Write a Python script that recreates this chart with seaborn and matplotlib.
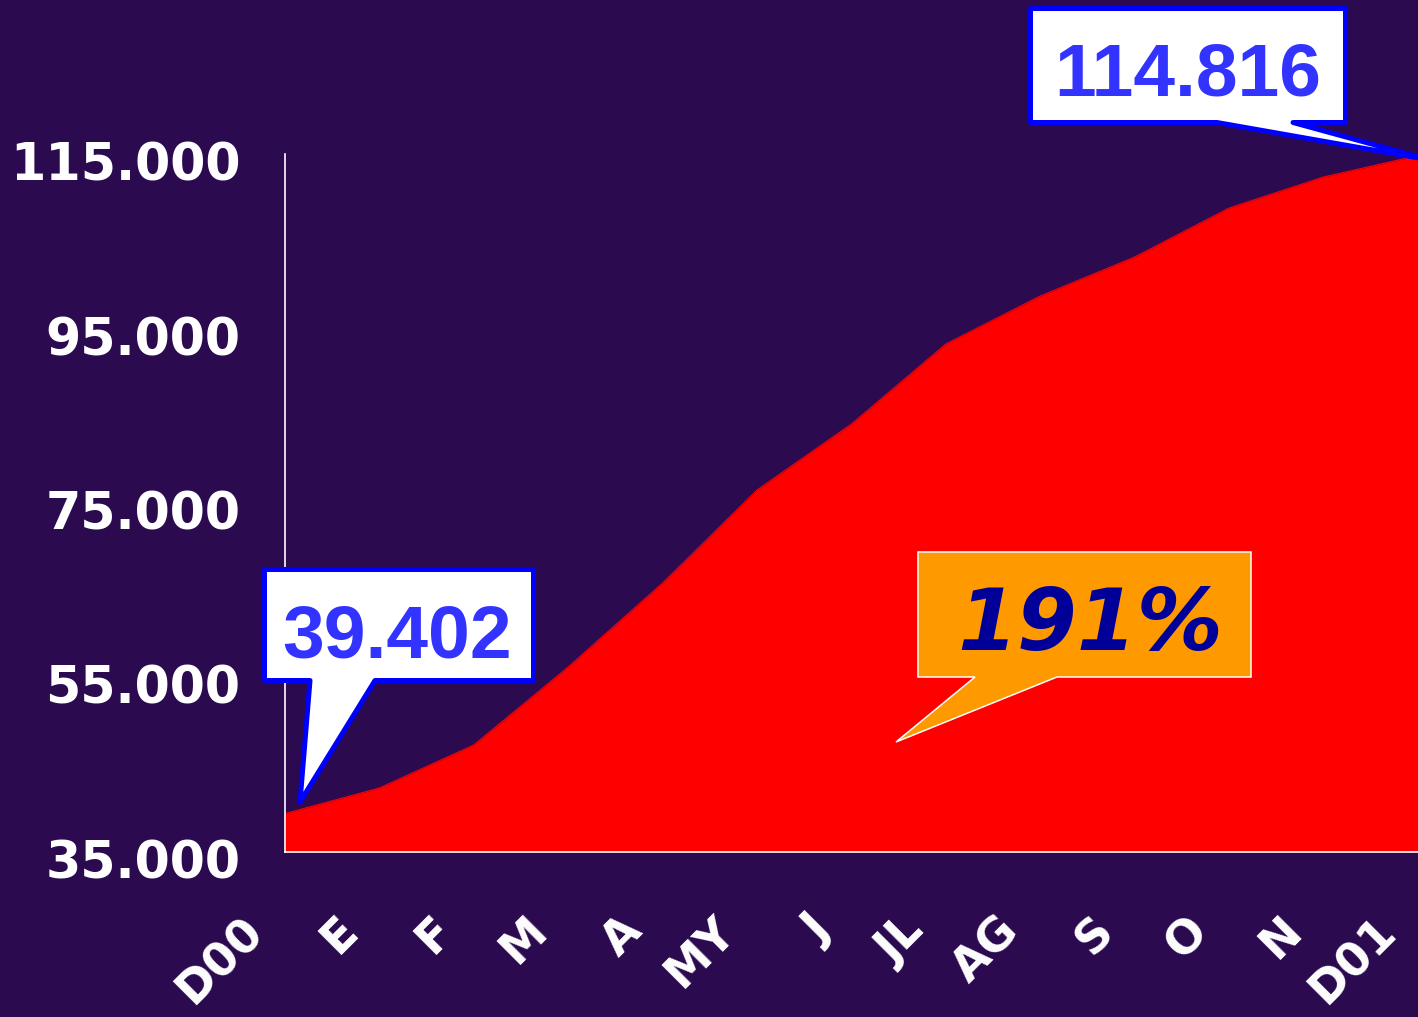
import numpy as np
import pandas as pd
import matplotlib
matplotlib.use("Agg")
import matplotlib.pyplot as plt
from matplotlib.patches import Polygon
from matplotlib.transforms import ScaledTranslation
import seaborn as sns

# ---- data ----
months = ["D00", "E", "F", "M", "A", "MY", "J", "JL", "AG", "S", "O", "N", "D01"]
values = [39402, 42335, 47264, 56203, 65831, 76490, 84054, 93224, 98725,
          103195, 108810, 112364, 114816]
y_ticks = [35000, 55000, 75000, 95000, 115000]
y_tick_labels = ["35.000", "55.000", "75.000", "95.000", "115.000"]
start_label = "39.402"
end_label = "114.816"
growth_label = "191%"

BG = "#2B0A50"
W, H = 1418, 1017

sns.set_theme(style="dark", rc={"axes.facecolor": BG, "figure.facecolor": BG,
                                "axes.grid": False})
plt.rcParams["font.family"] = ["DejaVu Sans"]

fig = plt.figure(figsize=(W / 100, H / 100), dpi=100)
ax = fig.add_axes([285 / W, (H - 852) / H, 1 - 285 / W, (852 - 154) / H])

df = pd.DataFrame({"x": np.arange(len(months)), "y": values})
sns.lineplot(data=df, x="x", y="y", color="#FF0000", lw=0.8, ax=ax)
ax.fill_between(df["x"], df["y"], y_ticks[0], color="#FF0000", lw=0)

ax.set_xlim(0, len(months) - 1)
ax.set_ylim(35000, 115000)
ax.set_xlabel("")
ax.set_ylabel("")

for s in ["top", "right"]:
    ax.spines[s].set_visible(False)
for s in ["left", "bottom"]:
    ax.spines[s].set_color("white")
    ax.spines[s].set_linewidth(1.2)

ax.set_yticks(y_ticks)
ax.set_yticklabels(y_tick_labels, fontsize=36.5, fontweight="bold", color="white")
ax.tick_params(axis="y", length=0, pad=32)
for lab in ax.get_yticklabels():
    lab.set_transform(lab.get_transform() + ScaledTranslation(0, -7 / 100, fig.dpi_scale_trans))

ax.set_xticks(np.arange(len(months)))
ax.set_xticklabels(months, fontsize=33, fontweight="bold", color="white",
                   rotation=45, ha="right", va="center", rotation_mode="anchor")
ax.tick_params(axis="x", length=0, pad=52)
for lab in ax.get_xticklabels():
    lab.set_transform(lab.get_transform() + ScaledTranslation(-28 / 100, 0, fig.dpi_scale_trans))


def P(pts):
    return [(x / W, 1 - y / H) for x, y in pts]


# callout at the start value
fig.add_artist(Polygon(P([(264.5, 569.5), (533.5, 569.5), (533.5, 680.5), (375, 680.5),
                          (300, 802), (310, 680.5), (264.5, 680.5)]),
                       closed=True, transform=fig.transFigure, facecolor="white",
                       edgecolor="#0000FF", linewidth=3.6, joinstyle="round", zorder=5))
fig.text(397 / W, 1 - 657 / H, start_label, ha="center", va="baseline",
         fontsize=54, fontweight="bold", color="#3333FF", family="Liberation Sans", zorder=6)

# callout at the end value
fig.add_artist(Polygon(P([(1030.5, 8.5), (1345.5, 8.5), (1345.5, 122.5), (1293, 122.5),
                          (1430, 160), (1217, 122.5), (1030.5, 122.5)]),
                       closed=True, transform=fig.transFigure, facecolor="white",
                       edgecolor="#0000FF", linewidth=3.6, joinstyle="round", zorder=5))
fig.text(1188 / W, 1 - 95 / H, end_label, ha="center", va="baseline",
         fontsize=54, fontweight="bold", color="#3333FF", family="Liberation Sans", zorder=6)

# growth callout
fig.add_artist(Polygon(P([(918, 552), (1251, 552), (1251, 677), (1057, 677),
                          (896, 742), (975, 677), (918, 677)]),
                       closed=True, transform=fig.transFigure, facecolor="#FF9900",
                       edgecolor="white", linewidth=1.1, joinstyle="miter", zorder=5))
fig.text(1090 / W, 1 - 650 / H, growth_label, ha="center", va="baseline",
         fontsize=62, fontweight="bold", style="italic", color="#000099", zorder=6)

fig.savefig("out.png", dpi=100, facecolor=BG)
